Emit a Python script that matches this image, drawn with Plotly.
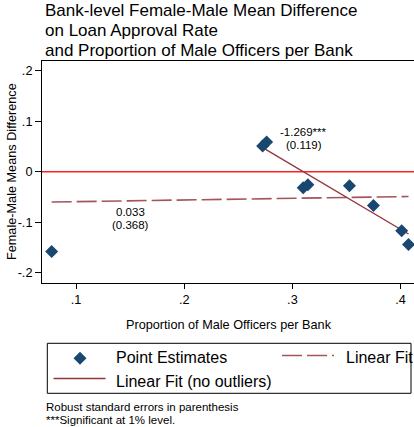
import plotly.graph_objects as go

# Bank-level estimates: share of male officers vs. female-male mean difference
prop_male = [0.0775, 0.2725, 0.2762, 0.3100, 0.3143, 0.3527, 0.3749, 0.4010, 0.4073]
mean_diff = [-0.158, 0.051, 0.059, -0.032, -0.026, -0.028, -0.067, -0.117, -0.144]

# Linear fits (slope from the regressions, intercept of each fitted line)
fit_all_slope, fit_all_intercept = 0.033, -0.0626
fit_all_se = 0.368
fit_trim_slope, fit_trim_intercept = -1.269, 0.3935
fit_trim_se = 0.119
outlier_cutoff = 0.2  # banks below this share are excluded in the trimmed fit

x_tickvals = [0.1, 0.2, 0.3, 0.4]
x_ticktext = [".1", ".2", ".3", ".4"]
y_tickvals = [0.2, 0.1, 0.0, -0.1, -0.2]
y_ticktext = [".2", ".1", "0", "-.1", "-.2"]

title_lines = ["Bank-level Female-Male Mean Difference",
               "on Loan Approval Rate",
               "and Proportion of Male Officers per Bank"]
notes = ["Robust standard errors in parenthesis",
         "***Significant at 1% level."]

NAVY = "#1a476f"
MAROON = "#93353b"
DASHED = "#a4545a"
FONT = "Liberation Sans, Arial, Helvetica, sans-serif"

W, H = 414, 427
L, R, T, B = 42, 414, 61, 283


def px(x):
    return (x - L) / (R - L)


def py(y):
    return (B - y) / (B - T)


fig = go.Figure()

# Full-sample linear fit
xa = [min(prop_male), max(prop_male)]
fig.add_trace(go.Scatter(
    x=xa, y=[fit_all_intercept + fit_all_slope * v for v in xa],
    mode="lines", line=dict(color=DASHED, width=1.6, dash="20px,5px"),
    showlegend=False, hoverinfo="skip"))

# Linear fit without the outlier
trim = [v for v in prop_male if v >= outlier_cutoff]
xt = [min(trim), max(trim)]
fig.add_trace(go.Scatter(
    x=xt, y=[fit_trim_intercept + fit_trim_slope * v for v in xt],
    mode="lines", line=dict(color=MAROON, width=1.3),
    showlegend=False, hoverinfo="skip"))

# Point estimates
fig.add_trace(go.Scatter(
    x=prop_male, y=mean_diff, mode="markers",
    marker=dict(symbol="diamond", size=10, color=NAVY, line=dict(width=0)),
    showlegend=False))

# Zero reference line
fig.add_shape(type="line", xref="paper", yref="y", x0=0, x1=1, y0=0, y1=0,
              line=dict(color="#ff2020", width=1.5), layer="below")

ann = []


def text(x, y, s, size, xanchor="left", xref="paper", yref="paper", angle=0):
    ann.append(dict(x=x, y=y, xref=xref, yref=yref, text=s, showarrow=False,
                    xanchor=xanchor, yanchor="middle", textangle=angle,
                    font=dict(family=FONT, size=size, color="black")))


# Title, three lines
for i, line in enumerate(title_lines):
    text(px(42.5), py(10.8 + 19.6 * i), line, 17)

# Coefficient labels (pixels per data unit on the y axis: 505)
dy = 13.2 / 505
text(0.3104, 0.0782, f"{fit_trim_slope:.3f}***", 11.5, xanchor="center", xref="x", yref="y")
text(0.3104, 0.0782 - dy, f"({fit_trim_se:.3f})", 11.5, xanchor="center", xref="x", yref="y")
text(0.150, -0.0800, f"{fit_all_slope:.3f}", 11.5, xanchor="center", xref="x", yref="y")
text(0.150, -0.0800 - dy, f"({fit_all_se:.3f})", 11.5, xanchor="center", xref="x", yref="y")

# Axis titles
text(px(229), py(325), "Proportion of Male Officers per Bank", 12.7, xanchor="center")
text(px(12), py(172), "Female-Male Means Difference", 12.7, xanchor="center", angle=-90)

# Legend
shapes = [
    dict(type="rect", xref="paper", yref="paper", x0=px(47.3), x1=px(411),
         y0=py(343.3), y1=py(393.3), line=dict(color="black", width=1)),
    dict(type="path", xref="paper", yref="paper",
         path=f"M {px(73.5)},{py(358.3)} L {px(80)},{py(351.8)} L {px(86.5)},{py(358.3)} "
              f"L {px(80)},{py(364.8)} Z",
         fillcolor=NAVY, line=dict(width=0)),
    dict(type="line", xref="paper", yref="paper", x0=px(282), x1=px(334),
         y0=py(355.5), y1=py(355.5), line=dict(color=DASHED, width=1.6, dash="20px,5px")),
    dict(type="line", xref="paper", yref="paper", x0=px(53.5), x1=px(105.5),
         y0=py(378.5), y1=py(378.5), line=dict(color=MAROON, width=1.3)),
]
for s in shapes:
    fig.add_shape(**s)

text(px(114), py(357.5), "Point Estimates", 16)
text(px(344), py(357.5), "Linear Fit", 16)
text(px(114), py(381), "Linear Fit (no outliers)", 16)

# Footnotes
for i, note in enumerate(notes):
    text(px(44), py(406.5 + 13.2 * i), note, 11.5)

x_lo = 0.1 - (76 - L) / 1082
x_hi = x_lo + (R - L) / 1082
y_hi = 0.2 + (70.7 - T) / 505
y_lo = y_hi - (B - T) / 505

fig.update_layout(
    width=W, height=H,
    margin=dict(l=L, r=W - R, t=T, b=H - B, pad=0),
    paper_bgcolor="white", plot_bgcolor="white",
    font=dict(family=FONT, size=12.7, color="black"),
    showlegend=False,
    annotations=ann,
    xaxis=dict(range=[x_lo, x_hi], tickvals=x_tickvals, ticktext=x_ticktext,
               showgrid=False, zeroline=False, showline=True, mirror=True,
               linecolor="black", linewidth=1, ticks="outside", ticklen=5,
               tickcolor="black", tickfont=dict(size=12.7)),
    yaxis=dict(range=[y_lo, y_hi], tickvals=y_tickvals, ticktext=y_ticktext,
               showgrid=False, zeroline=False, showline=True,
               linecolor="black", linewidth=1, ticks="outside", ticklen=6,
               tickcolor="black", tickfont=dict(size=12.7)),
)

fig.write_html("out.html")
